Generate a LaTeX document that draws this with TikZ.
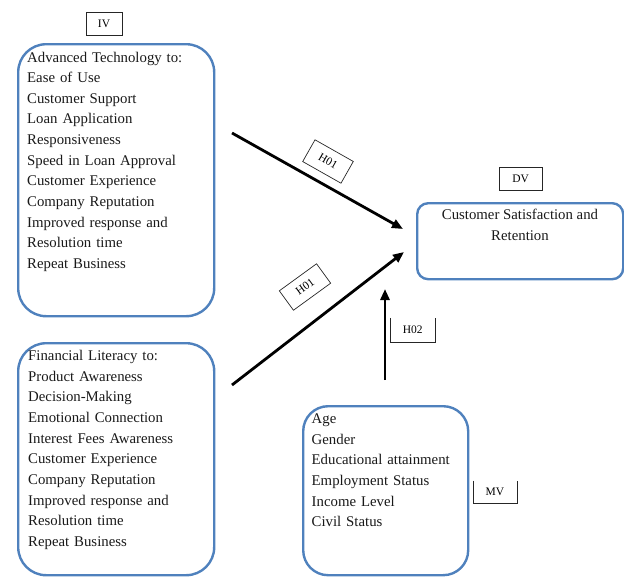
\documentclass[tikz,border=0pt]{standalone}
\usepackage{fontspec}
\setmainfont{Liberation Serif}
\usetikzlibrary{arrows.meta}
\definecolor{boxblue}{HTML}{4F81BD}
\begin{document}
\begin{tikzpicture}[x=1pt,y=-1pt,
  vbox/.style={draw=boxblue, line width=2.4pt, rounded corners=#1, anchor=north west, inner sep=0pt},
  listtext/.style={font=\fontsize{14.8}{20.66}\selectfont, align=left, inner sep=0pt, anchor=base west, text=black!90},
  lbl/.style={draw=black!85, line width=0.7pt, font=\fontsize{11.5}{13}\selectfont, inner sep=0pt},
  lbltext/.style={font=\fontsize{11.5}{13}\selectfont, inner sep=0pt},
  conn/.style={line width=2.8pt, -{Triangle[length=11pt,width=9pt]}}
]
\useasboundingbox (0,0) rectangle (624,576);
\clip (0,0) rectangle (624,576);

% main boxes
\node[vbox=28pt, minimum width=196pt, minimum height=272pt] (ivbox) at (17,43) {};
\node[vbox=28pt, minimum width=196pt, minimum height=232pt] (flbox) at (17,342) {};
\node[vbox=25pt, minimum width=165pt, minimum height=169pt] (mvbox) at (302,405) {};
\node[vbox=11pt, minimum width=206pt, minimum height=76pt] (dvbox) at (416,202) {};

% texts
\node[listtext, text width=175pt] (ivtext) at (27,62) {Advanced Technology to:\\
Ease of Use\\
Customer Support\\
Loan Application\\
Responsiveness\\
Speed in Loan Approval\\
Customer Experience\\
Company Reputation\\
\makebox[175pt][s]{Improved response and}\\
Resolution time\\
Repeat Business};

\node[listtext, text width=172pt] (fltext) at (28,360.5) {Financial Literacy to:\\
Product Awareness\\
Decision-Making\\
Emotional Connection\\
Interest Fees Awareness\\
Customer Experience\\
Company Reputation\\
\makebox[172pt][s]{Improved response and}\\
Resolution time\\
Repeat Business};

\node[listtext, text width=150pt] (mvtext) at (311.5,423.5) {Age\\
Gender\\
Educational attainment\\
Employment Status\\
Income Level\\
Civil Status};

\node[font=\fontsize{14.8}{21}\selectfont, align=center, inner sep=0pt, anchor=base, text=black!90] (dvtext) at (520,240.5) {Customer Satisfaction and\\Retention};

% labels
\node[lbl, minimum width=35.7pt, minimum height=23pt] (iv) at (104,24) {IV};
\node[lbl, minimum width=43pt, minimum height=23.4pt] (dv) at (520.7,179) {DV};
\node[lbltext, minimum width=44.3pt, minimum height=23.7pt] (h02) at (412.8,330) {H02};
\draw[black!85, line width=0.7pt] (h02.north west) -- (h02.south west) -- (h02.south east) -- (h02.north east);
\node[lbltext, minimum width=43.4pt, minimum height=22.6pt] (mv) at (495,492) {MV};
\draw[black!85, line width=0.7pt] (mv.north west) -- (mv.south west) -- (mv.south east) -- (mv.north east);

\node[lbl, rotate=-29.5, minimum width=44pt, minimum height=25pt] (h01a) at (328,161.5) {H01};
\node[lbl, rotate=36, minimum width=46pt, minimum height=24pt] (h01b) at (305,287) {H01};

% connectors
\coordinate (a1s) at (232,133);
\coordinate (a1e) at (403,229);
\coordinate (a2s) at (232,385);
\coordinate (a2e) at (404,252);
\coordinate (a3s) at (385,380);
\coordinate (a3e) at (385,289);
\draw[conn] (a1s) -- (a1e);
\draw[conn] (a2s) -- (a2e);
\draw[conn] (a3s) -- (a3e);
\end{tikzpicture}
\end{document}
